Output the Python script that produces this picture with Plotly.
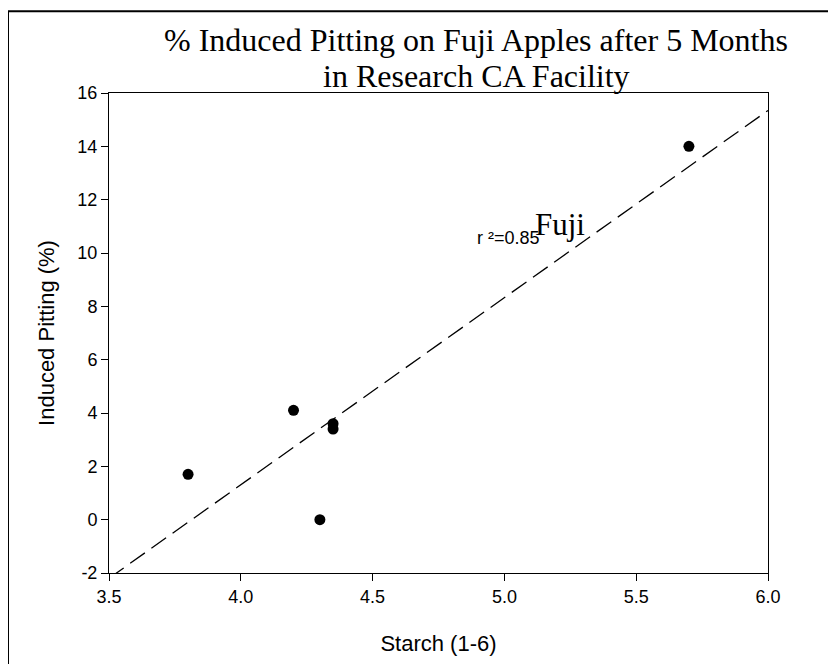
import numpy as np
import plotly.graph_objects as go

# Data
starch = [3.80, 4.20, 4.30, 4.35, 4.35, 5.70]
pitting = [1.7, 4.1, 0.0, 3.4, 3.6, 14.0]

x_ticks = [3.5, 4.0, 4.5, 5.0, 5.5, 6.0]
x_tick_text = ["3.5", "4.0", "4.5", "5.0", "5.5", "6.0"]
y_ticks = [-2, 0, 2, 4, 6, 8, 10, 12, 14, 16]
y_tick_text = ["-2", "0", "2", "4", "6", "8", "10", "12", "14", "16"]

title_line1 = "% Induced Pitting on Fuji Apples after 5 Months"
title_line2 = "in Research CA Facility"
x_title = "Starch (1-6)"
y_title = "Induced Pitting (%)"
r2_label = "r ²=0.85"
series_label = "Fuji"

# Linear regression from the data
slope, intercept = np.polyfit(starch, pitting, 1)
fit_x = [x_ticks[0], x_ticks[-1]]
fit_y = [slope * v + intercept for v in fit_x]

SANS = "Liberation Sans, Arial, sans-serif"
SERIF = "Liberation Serif, Times New Roman, serif"

fig = go.Figure()
fig.add_trace(go.Scatter(
    x=fit_x, y=fit_y, mode="lines",
    line=dict(color="black", width=1.3, dash="18px,8px"),
    showlegend=False, hoverinfo="skip",
))
fig.add_trace(go.Scatter(
    x=starch, y=pitting, mode="markers",
    marker=dict(color="black", size=11, line=dict(width=0)),
    showlegend=False,
))

# page body margin offsets the figure by 8px
OFF = 8
WIN_W, WIN_H = 836, 664
W, H = WIN_W - OFF, WIN_H - OFF
# plot area in window pixels
PL, PR, PT, PB = 109, 768, 93, 575
L, R, T, B = PL - OFF, (WIN_W - PR), PT - OFF, (WIN_H - PB)
pw, ph = PR - PL, PB - PT

def px_x(p):
    return (p - PL) / pw

def px_y(p):
    return (PB - p) / ph

fig.update_layout(
    width=W, height=H,
    margin=dict(l=L, r=R, t=T, b=B),
    paper_bgcolor="white", plot_bgcolor="white",
    font=dict(family=SANS, color="black", size=18),
    xaxis=dict(
        range=[3.5, 6.0], tickvals=x_ticks, ticktext=x_tick_text,
        ticks="outside", ticklen=7, tickwidth=1, tickcolor="black",
        showline=True, linecolor="black", linewidth=1, mirror=True,
        showgrid=False, zeroline=False,
        tickfont=dict(family=SANS, size=18),
        title=dict(text=x_title, font=dict(family=SANS, size=22), standoff=30),
    ),
    yaxis=dict(
        range=[-2, 16], tickvals=y_ticks, ticktext=y_tick_text,
        ticks="outside", ticklen=7, tickwidth=1, tickcolor="black",
        showline=True, linecolor="black", linewidth=1, mirror=True,
        showgrid=False, zeroline=False,
        tickfont=dict(family=SANS, size=18),
        title=dict(text=y_title, font=dict(family=SANS, size=22), standoff=16),
    ),
    annotations=[
        dict(text=title_line1, xref="paper", yref="paper",
             x=px_x(476), y=px_y(40), xanchor="center", yanchor="middle",
             showarrow=False, font=dict(family=SERIF, size=32, color="black")),
        dict(text=title_line2, xref="paper", yref="paper",
             x=px_x(476), y=px_y(76), xanchor="center", yanchor="middle",
             showarrow=False, font=dict(family=SERIF, size=32, color="black")),
        dict(text=r2_label, xref="x", yref="y", x=4.89, y=10.56,
             xanchor="left", yanchor="middle", showarrow=False,
             font=dict(family=SANS, size=18, color="black")),
        dict(text=series_label, xref="x", yref="y", x=5.11, y=11.07,
             xanchor="left", yanchor="middle", showarrow=False,
             font=dict(family=SERIF, size=31, color="black")),
    ],
    shapes=[
        dict(type="line", xref="paper", yref="paper",
             x0=px_x(8), x1=px_x(8), y0=px_y(11), y1=px_y(700),
             line=dict(color="black", width=2)),
        dict(type="line", xref="paper", yref="paper",
             x0=px_x(7), x1=px_x(900), y0=px_y(11), y1=px_y(11),
             line=dict(color="black", width=2)),
    ],
)

fig.write_html("out.html")
